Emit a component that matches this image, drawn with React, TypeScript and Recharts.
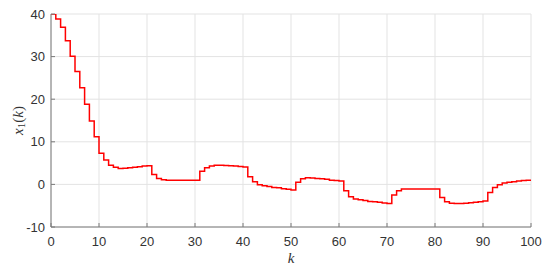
import React from "react";
import {
  LineChart,
  Line,
  XAxis,
  YAxis,
  CartesianGrid,
} from "recharts";

// x1(k), one value per sample k = 0..100
const x1Values = [
  40, 38.8, 36.9, 33.7, 30.1, 26.5, 22.7, 18.8, 14.9, 11.2,
  7.3, 5.7, 4.5, 4.0, 3.75, 3.8, 3.9, 4.0, 4.15, 4.3,
  4.4, 2.35, 1.4, 1.1, 1.0, 1.0, 1.0, 1.0, 1.0, 1.0,
  1.0, 3.1, 3.9, 4.3, 4.5, 4.5, 4.45, 4.4, 4.3, 4.2,
  4.1, 1.8, 0.6, -0.1, -0.3, -0.5, -0.7, -0.8, -1.0, -1.15,
  -1.3, 0.5, 1.3, 1.55, 1.5, 1.4, 1.3, 1.2, 1.0, 0.9,
  0.8, -1.5, -2.9, -3.4, -3.6, -3.8, -4.0, -4.1, -4.2, -4.35,
  -4.5, -2.5, -1.5, -1.1, -1.1, -1.1, -1.1, -1.1, -1.1, -1.1,
  -1.1, -3.05, -4.1, -4.45, -4.5, -4.5, -4.4, -4.3, -4.2, -4.05,
  -3.9, -1.9, -0.7, -0.1, 0.3, 0.5, 0.65, 0.8, 0.9, 1.0,
  1.1,
];
const kValues = x1Values.map((_, i) => i);

const xTicks = [0, 10, 20, 30, 40, 50, 60, 70, 80, 90, 100];
const yTicks = [-10, 0, 10, 20, 30, 40];

const data = kValues.map((k, i) => ({ k, x1: x1Values[i] }));

const AXIS = "#7a7a7a";
const TEXT = "#333333";
const FONT = "'Liberation Sans', Arial, sans-serif";

const YLabel = ({ viewBox }: any) => {
  const cx = 18;
  const cy = viewBox.y + viewBox.height / 2;
  return (
    <text
      x={cx}
      y={cy}
      transform={`rotate(-90, ${cx}, ${cy})`}
      textAnchor="middle"
      dominantBaseline="central"
      fill={TEXT}
      fontFamily="'Liberation Serif', 'DejaVu Serif', serif"
      fontSize={15}
    >
      <tspan fontStyle="italic">x</tspan>
      <tspan fontSize={11} dy={3}>1</tspan>
      <tspan dy={-3}>(</tspan>
      <tspan fontStyle="italic">k</tspan>
      <tspan>)</tspan>
    </text>
  );
};

const XLabel = ({ viewBox }: any) => (
  <text
    x={viewBox.x + viewBox.width / 2}
    y={263}
    textAnchor="middle"
    fill={TEXT}
    fontFamily="'Liberation Serif', 'DejaVu Serif', serif"
    fontStyle="italic"
    fontSize={15}
  >
    k
  </text>
);

export default function App() {
  return (
    <div style={{ position: "absolute", left: 0, top: 0, width: 550, height: 267, background: "#fff" }}>
      <LineChart
        width={550}
        height={267}
        data={data}
        margin={{ top: 14, right: 19, bottom: 0, left: 0 }}
      >
        <CartesianGrid
          stroke="#e3e3e3"
          horizontalValues={yTicks}
          verticalValues={xTicks}
          xAxisId="bottom"
          yAxisId="left"
        />
        <XAxis
          xAxisId="bottom"
          dataKey="k"
          type="number"
          domain={[0, 100]}
          ticks={xTicks}
          allowDataOverflow
          height={40}
          stroke={AXIS}
          tickSize={-4}
          tickMargin={14}
          tick={{ fill: TEXT, fontSize: 13, fontFamily: FONT }}
          label={<XLabel />}
        />
        <XAxis
          xAxisId="top"
          orientation="top"
          dataKey="k"
          type="number"
          domain={[0, 100]}
          ticks={xTicks}
          height={0}
          stroke={AXIS}
          tickSize={-4}
          tick={false}
        />
        <YAxis
          yAxisId="left"
          type="number"
          domain={[-10, 40]}
          ticks={yTicks}
          allowDataOverflow
          width={51}
          stroke={AXIS}
          tickSize={-4}
          tickMargin={10}
          tick={{ fill: TEXT, fontSize: 13, fontFamily: FONT }}
          label={<YLabel />}
        />
        <YAxis
          yAxisId="right"
          orientation="right"
          type="number"
          domain={[-10, 40]}
          ticks={yTicks}
          width={0}
          stroke={AXIS}
          tickSize={-4}
          tick={false}
        />
        <Line
          xAxisId="bottom"
          yAxisId="left"
          type="stepAfter"
          dataKey="x1"
          stroke="#ff0000"
          strokeWidth={1.5}
          dot={false}
          isAnimationActive={false}
        />
      </LineChart>
    </div>
  );
}
